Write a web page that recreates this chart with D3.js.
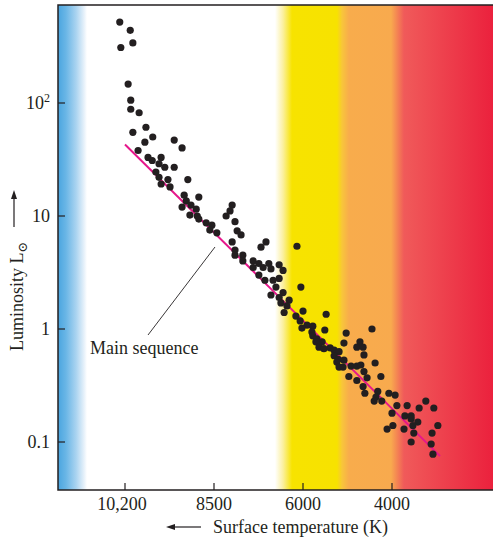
<!DOCTYPE html>
<html>
<head>
<meta charset="utf-8">
<script src="https://cdn.jsdelivr.net/npm/d3@7"></script>
<style>
  body { margin: 0; background: #fff; }
  svg text { font-family: "Liberation Serif", "DejaVu Serif", serif; fill: #231f20; }
</style>
</head>
<body>
<svg id="chart"></svg>
<script>
const width = 494;
const height = 538;

// Star data: surface temperature (K) and luminosity (L sun)
const temps = [
  10300, 10100, 10050, 10280, 10140, 10090, 10090, 9930, 9800, 10050,
  9670, 9820, 9260, 9110, 9950, 9760, 9680, 9510, 9550, 9440,
  9260, 9610, 9550, 9380, 9510, 9340, 9000, 9070, 8790, 9030,
  8940, 9110, 8840, 8960, 8820, 8790, 8650, 8540, 8580, 8420,
  7990, 8050, 8160, 7910, 7850, 7990, 7740, 7040, 7180, 6170,
  7910, 7690, 7910, 7690, 7400, 7400, 7240, 7120, 6960, 6900,
  6670, 6560, 7240, 7070, 6670, 6760, 6900, 6060, 6560, 6670,
  6390, 6620, 6450, 6840, 6530, 6000, 6200, 5480, 6080, 5910,
  5780, 6030, 5800, 5510, 5780, 5690, 5570, 5710, 5640, 5530,
  5390, 5300, 5190, 5300, 5210, 5240, 5080, 5190, 5100, 5030,
  5080, 4450, 4720, 4790, 4650, 4630, 4920, 4790, 4700, 4630,
  4970, 4790, 4560, 4380, 4250, 4650, 4610, 4320, 4360, 4400,
  4230, 4070, 3930, 3890, 3660, 3390, 3240, 3060, 4000, 3710,
  3570, 3570, 3420, 3530, 3730, 3980, 4110, 2970, 3100, 3510,
  3570, 3120, 3080
];
const lums = [
  520, 440, 340, 310, 147, 106, 88, 82, 61, 55,
  50, 45, 47, 40, 38, 33, 31, 33, 29, 27,
  27, 24.5, 22, 21, 19.2, 18.1, 21, 15.3, 14.7, 13.6,
  12.5, 12.0, 11.5, 10.2, 10.0, 9.4, 8.7, 8.3, 7.5, 7.1,
  12.5, 11.1, 10.0, 8.9, 7.4, 5.9, 6.8, 5.9, 5.3, 5.4,
  5.0, 4.5, 4.5, 4.0, 4.0, 3.5, 3.8, 3.5, 3.8, 3.4,
  3.7, 3.3, 3.0, 2.7, 2.8, 2.35, 2.0, 2.35, 2.1, 1.9,
  1.8, 1.7, 1.6, 2.7, 1.4, 1.44, 1.3, 1.35, 1.18, 1.08,
  1.06, 1.02, 0.94, 0.98, 0.87, 0.82, 0.77, 0.77, 0.69, 0.67,
  0.68, 0.65, 0.63, 0.58, 0.54, 0.51, 0.53, 0.46, 0.46, 0.92,
  0.75, 1.0, 0.77, 0.69, 0.69, 0.59, 0.47, 0.47, 0.48, 0.42,
  0.38, 0.35, 0.37, 0.50, 0.38, 0.31, 0.27, 0.28, 0.25, 0.23,
  0.23, 0.27, 0.26, 0.21, 0.21, 0.20, 0.23, 0.20, 0.18, 0.17,
  0.17, 0.16, 0.15, 0.14, 0.13, 0.14, 0.13, 0.14, 0.12, 0.12,
  0.10, 0.096, 0.078
];

// Main sequence fit line (end points)
const mainSeqTemps = [10200, 2920];
const mainSeqLums = [43, 0.075];

// Axis ticks
const tempTicks = [10200, 8500, 6000, 4000];
const tempTickLabels = ["10,200", "8500", "6000", "4000"];
const lumTicks = [100, 10, 1, 0.1];

// Layout
const plotLeft = 58, plotRight = 493, plotTop = 5, plotBottom = 490;

const svg = d3.select("#chart")
  .attr("width", width)
  .attr("height", height);

// Temperature axis is schematic: piecewise between labelled ticks
const x = d3.scaleLinear()
  .domain(tempTicks)
  .range([125, 214, 303, 392]);

const y = d3.scaleLog()
  .domain([0.1, 100])
  .range([442, 103]);

// Spectrum background
const defs = svg.append("defs");
const grad = defs.append("linearGradient")
  .attr("id", "spectrum")
  .attr("gradientUnits", "userSpaceOnUse")
  .attr("x1", plotLeft).attr("x2", plotRight)
  .attr("y1", 0).attr("y2", 0);

const stops = [
  [58, "#4aa5df"], [66, "#6ab6e6"], [76, "#a9d3f0"], [84, "#e6f1fa"], [87, "#ffffff"],
  [275, "#ffffff"], [283, "#fbf0a0"], [292, "#f7e300"], [337, "#f7e200"],
  [342, "#f8c63a"], [349, "#f8ac4c"], [391, "#f8aa4e"], [397, "#f48553"],
  [404, "#f05a5a"], [493, "#eb213d"]
];
grad.selectAll("stop")
  .data(stops)
  .join("stop")
  .attr("offset", d => (d[0] - plotLeft) / (plotRight - plotLeft))
  .attr("stop-color", d => d[1]);

svg.append("rect")
  .attr("x", plotLeft).attr("y", plotTop)
  .attr("width", plotRight - plotLeft).attr("height", plotBottom - plotTop)
  .attr("fill", "url(#spectrum)");

// Main sequence line
const line = d3.line()
  .x(d => x(d[0]))
  .y(d => y(d[1]));

svg.append("path")
  .datum(d3.zip(mainSeqTemps, mainSeqLums))
  .attr("d", line)
  .attr("fill", "none")
  .attr("stroke", "#e6178b")
  .attr("stroke-width", 2);

// Stars
svg.selectAll(".star")
  .data(d3.zip(temps, lums))
  .join("circle")
  .attr("class", "star")
  .attr("cx", d => x(d[0]))
  .attr("cy", d => y(d[1]))
  .attr("r", 3.6)
  .attr("fill", "#231f20");

// Frame
svg.append("path")
  .attr("d", `M${plotRight},${plotTop}H${plotLeft}V${plotBottom}H${plotRight}`)
  .attr("fill", "none")
  .attr("stroke", "#231f20")
  .attr("stroke-width", 1.5);

// Ticks (pointing inward)
svg.selectAll(".xtick")
  .data(tempTicks)
  .join("line")
  .attr("class", "xtick")
  .attr("x1", d => x(d)).attr("x2", d => x(d))
  .attr("y1", plotBottom).attr("y2", plotBottom - 7)
  .attr("stroke", "#231f20").attr("stroke-width", 1.2);

svg.selectAll(".ytick")
  .data(lumTicks)
  .join("line")
  .attr("class", "ytick")
  .attr("x1", plotLeft).attr("x2", plotLeft + 7)
  .attr("y1", d => y(d)).attr("y2", d => y(d))
  .attr("stroke", "#231f20").attr("stroke-width", 1.2);

// Tick labels
svg.selectAll(".xlabel")
  .data(tempTicks)
  .join("text")
  .attr("class", "xlabel")
  .attr("x", (d, i) => x(d) - (i === 0 ? 3 : 0))
  .attr("y", 510)
  .attr("text-anchor", "middle")
  .attr("font-size", 18)
  .text((d, i) => tempTickLabels[i]);

const ylab = svg.selectAll(".ylabel")
  .data(lumTicks)
  .join("text")
  .attr("class", "ylabel")
  .attr("x", 50)
  .attr("y", d => y(d) + 6)
  .attr("text-anchor", "end")
  .attr("font-size", 18);

ylab.each(function (d) {
  const t = d3.select(this);
  if (d === 100) {
    t.append("tspan").text("10");
    t.append("tspan").attr("dy", -7).attr("font-size", 12).text("2");
  } else {
    t.text(d3.format("~g")(d));
  }
});

// Axis titles
svg.append("text")
  .attr("x", 213)
  .attr("y", 533)
  .attr("font-size", 18)
  .text("Surface temperature (K)");

svg.append("line")
  .attr("x1", 201).attr("x2", 170)
  .attr("y1", 527).attr("y2", 527)
  .attr("stroke", "#231f20").attr("stroke-width", 1.2);
svg.append("path")
  .attr("d", "M166,527 L175,524 L175,530 Z")
  .attr("fill", "#231f20");

const ytitle = svg.append("text")
  .attr("transform", "translate(23,351) rotate(-90)")
  .attr("font-size", 18);
ytitle.append("tspan").text("Luminosity L");
ytitle.append("tspan").attr("dy", 4).attr("font-size", 13).text("\u2299");

svg.append("line")
  .attr("x1", 14).attr("x2", 14)
  .attr("y1", 227).attr("y2", 195)
  .attr("stroke", "#231f20").attr("stroke-width", 1.2);
svg.append("path")
  .attr("d", "M14,190 L11,199 L17,199 Z")
  .attr("fill", "#231f20");

// Main sequence annotation
svg.append("text")
  .attr("x", 90)
  .attr("y", 354)
  .attr("font-size", 18)
  .text("Main sequence");

svg.append("line")
  .attr("x1", 148).attr("y1", 335)
  .attr("x2", 215).attr("y2", 247)
  .attr("stroke", "#231f20").attr("stroke-width", 0.9);
</script>
</body>
</html>
